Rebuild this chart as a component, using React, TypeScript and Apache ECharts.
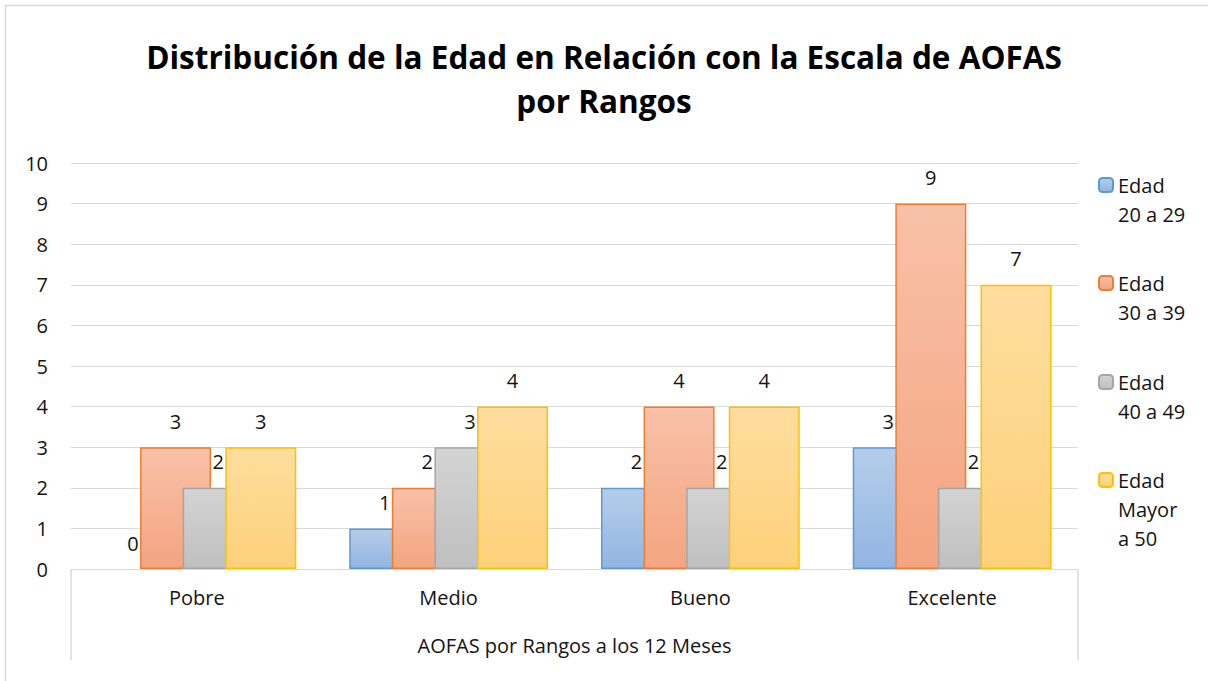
import React, { useEffect, useRef } from "react";
import * as echarts from "echarts";

const categories = ["Pobre", "Medio", "Bueno", "Excelente"];
const seriesNames = ["Edad 20 a 29", "Edad 30 a 39", "Edad 40 a 49", "Edad Mayor a 50"];
const legendLabels = ["Edad\n20 a 29", "Edad\n30 a 39", "Edad\n40 a 49", "Edad\nMayor\na 50"];
const edad20a29 = [0, 1, 2, 3];
const edad30a39 = [3, 2, 4, 9];
const edad40a49 = [2, 3, 2, 2];
const edadMayor50 = [3, 4, 4, 7];
const seriesValues = [edad20a29, edad30a39, edad40a49, edadMayor50];
const yTicks = [0, 1, 2, 3, 4, 5, 6, 7, 8, 9, 10];
const titleText = "Distribución de la Edad en Relación con la Escala de AOFAS\npor Rangos";
const xAxisTitle = "AOFAS por Rangos a los 12 Meses";

const borderColors = ["#5b9bd5", "#ed7d31", "#a5a5a5", "#ffc000"];
const topColors = ["#b5cdea", "#f8c1a8", "#d4d4d4", "#fedd9e"];
const bottomColors = ["#92b5e2", "#f4a480", "#bfbfbf", "#fdd17a"];

const W = 1208;
const H = 681;
const GRID_LEFT = 71;
const GRID_RIGHT_X = 1078;
const GRID_TOP = 163;
const AXIS_Y = 569;
const BOX_BOTTOM = 660;
const FONT = "'Open Sans', sans-serif";
const TEXT_COLOR = "#141414";
const LINE_H = 29;
const legendCenters = [185, 283, 382, 480];

export default function App() {
  const ref = useRef<HTMLDivElement>(null);
  useEffect(() => {
    if (!ref.current) return;
    const chart = echarts.init(ref.current, undefined, { renderer: "svg" });
    const legends = seriesNames.map((name, i) => {
      const lines = legendLabels[i].split("\n").length;
      // leading blank lines so that the first text line sits level with the icon
      const padded = "\n".repeat(lines - 1) + legendLabels[i];
      return {
        data: [name],
        left: 1098,
        top: legendCenters[i] - ((2 * lines - 1) * LINE_H) / 2,
        padding: 0,
        itemWidth: 14,
        itemHeight: 14,
        selectedMode: false,
        formatter: () => padded,
        textStyle: {
          fontFamily: FONT,
          fontSize: 20,
          color: TEXT_COLOR,
          lineHeight: LINE_H,
        },
      };
    });
    chart.setOption({
      animation: false,
      backgroundColor: "#ffffff",
      title: {
        text: titleText,
        left: "center",
        top: 34,
        padding: 0,
        textStyle: {
          fontFamily: FONT,
          fontWeight: "bold",
          fontSize: 31.5,
          color: "#000000",
          lineHeight: 44,
        },
      },
      legend: legends,
      grid: {
        left: GRID_LEFT,
        right: W - GRID_RIGHT_X,
        top: GRID_TOP,
        bottom: H - AXIS_Y,
        containLabel: false,
      },
      xAxis: {
        type: "category",
        data: categories,
        axisLine: { show: true, lineStyle: { color: "#d9d9d9", width: 1 } },
        axisTick: { show: false },
        axisLabel: { fontFamily: FONT, fontSize: 20, color: TEXT_COLOR, margin: 18 },
        name: xAxisTitle,
        nameLocation: "middle",
        nameGap: 66,
        nameTextStyle: { fontFamily: FONT, fontSize: 20, color: TEXT_COLOR },
      },
      yAxis: {
        type: "value",
        min: yTicks[0],
        max: yTicks[yTicks.length - 1],
        interval: 1,
        axisLine: { show: false },
        axisTick: { show: false },
        axisLabel: { fontFamily: FONT, fontSize: 20, color: TEXT_COLOR, margin: 23 },
        splitLine: { show: true, lineStyle: { color: "#d9d9d9", width: 1 } },
      },
      series: seriesNames.map((name, i) => ({
        name,
        type: "bar",
        data: seriesValues[i].map((v) => ({
          value: v,
          itemStyle: { borderWidth: v === 0 ? 0 : 1.5 },
        })),
        barWidth: 71,
        barGap: "-40%",
        itemStyle: {
          color: {
            type: "linear",
            x: 0,
            y: 0,
            x2: 0,
            y2: 1,
            colorStops: [
              { offset: 0, color: topColors[i] },
              { offset: 1, color: bottomColors[i] },
            ],
          },
          borderColor: borderColors[i],
          borderWidth: 1.5,
        },
        label: {
          show: true,
          position: "top",
          distance: 16,
          fontFamily: FONT,
          fontSize: 20,
          color: TEXT_COLOR,
        },
      })),
      graphic: [
        {
          type: "rect",
          shape: { x: 5.5, y: 5.5, width: 1400, height: 1000 },
          style: { fill: "none", stroke: "#d9d9d9", lineWidth: 1.5 },
          silent: true,
        },
        {
          type: "line",
          shape: { x1: GRID_LEFT, y1: AXIS_Y, x2: GRID_LEFT, y2: BOX_BOTTOM },
          style: { stroke: "#d9d9d9", lineWidth: 1.5 },
          silent: true,
        },
        {
          type: "line",
          shape: { x1: GRID_RIGHT_X, y1: AXIS_Y, x2: GRID_RIGHT_X, y2: BOX_BOTTOM },
          style: { stroke: "#d9d9d9", lineWidth: 1.5 },
          silent: true,
        },
      ],
    });
    return () => chart.dispose();
  }, []);
  return (
    <div
      ref={ref}
      style={{ position: "fixed", left: 0, top: 0, width: W, height: H }}
    />
  );
}
